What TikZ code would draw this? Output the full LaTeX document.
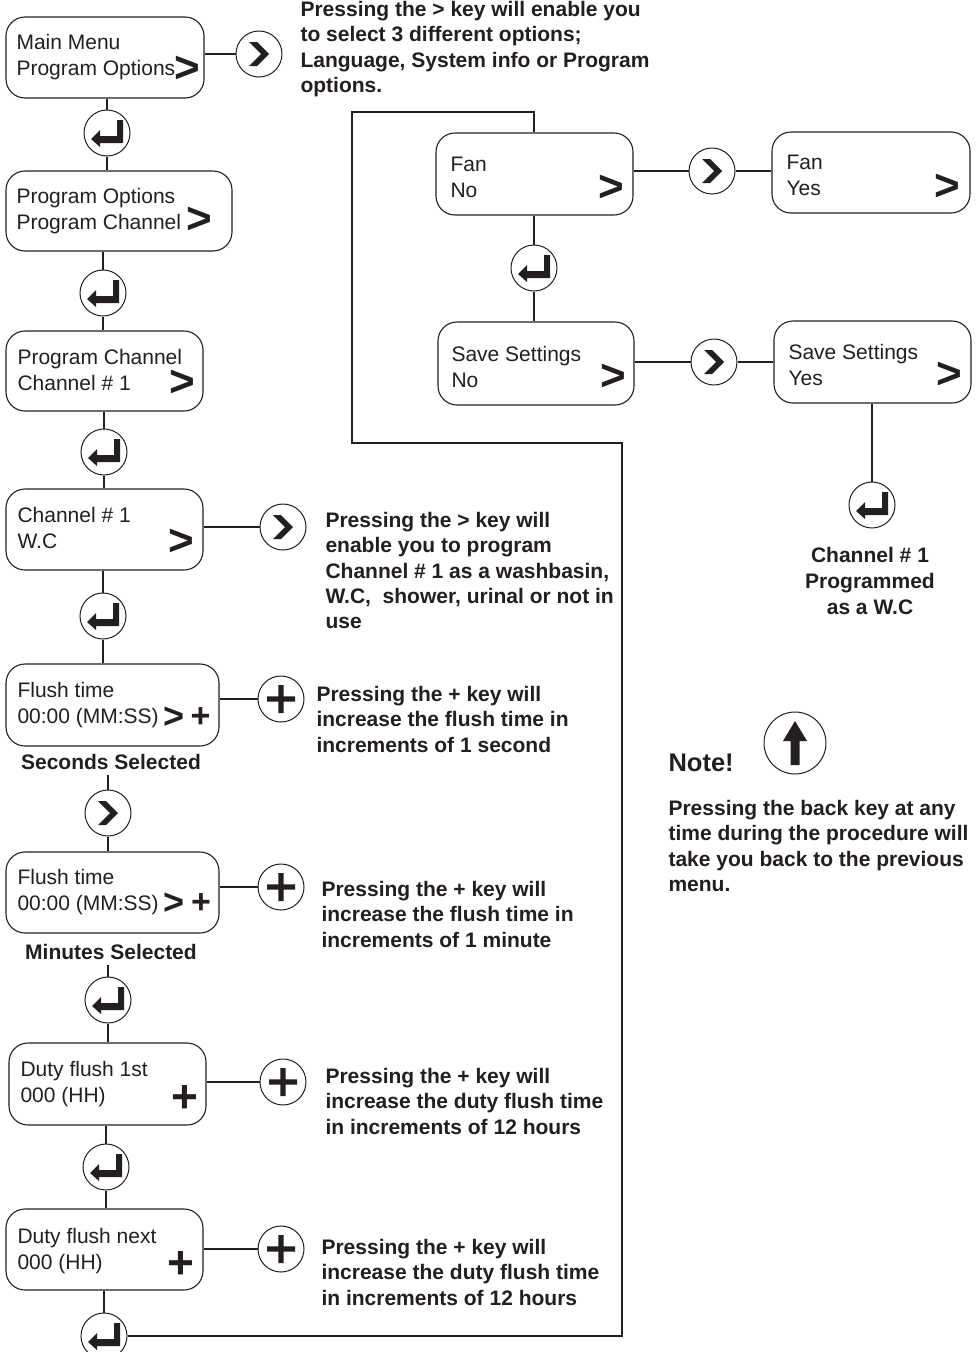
\documentclass[tikz,border=0pt]{standalone}
\usepackage{fontspec}
\setmainfont{Liberation Sans}
\definecolor{ink}{RGB}{35,31,32}
\begin{document}
\begin{tikzpicture}[x=1pt,y=-1pt,line width=1.1pt,
  lcdbox/.style={draw=ink,rounded corners=19pt,inner sep=0pt},
  lcdtext/.style={font=\fontsize{21}{26}\selectfont,align=left,anchor=base west,inner sep=0pt,text=ink},
  desc/.style={font=\fontsize{21}{25.3}\selectfont\bfseries,align=left,anchor=base west,inner sep=0pt,text=ink},
  gtbig/.style={font=\fontsize{44}{44}\selectfont\bfseries,anchor=base,inner sep=0pt,text=ink},
  gtsmall/.style={font=\fontsize{36}{36}\selectfont\bfseries,anchor=base,inner sep=0pt,text=ink},
  plussmall/.style={font=\fontsize{34}{34}\selectfont\bfseries,anchor=base,inner sep=0pt,text=ink},
  plusbig/.style={font=\fontsize{46}{46}\selectfont\bfseries,anchor=base,inner sep=0pt,text=ink},
  keycirc/.style={circle,draw=ink,fill=white,line width=1pt,minimum size=46pt,inner sep=0pt},
  enterkey/.style={keycirc,path picture={\fill[ink,shift={(path picture bounding box.center)}]
      (16pt,13pt) -- (16pt,-10pt) -- (-7pt,-10pt) -- (-7pt,-14pt) -- (-16pt,-6pt) -- (-7pt,3pt)
      -- (-7pt,-3pt) -- (10pt,-3pt) -- (10pt,13pt) -- cycle;}},
  gtkey/.style={keycirc,path picture={\fill[ink,shift={(path picture bounding box.center)}]
      (-10pt,12pt) -- (-2pt,12pt) -- (10pt,0pt) -- (-2pt,-12pt) -- (-10pt,-12pt) -- (2pt,0pt) -- cycle;}},
  pluskey/.style={keycirc,path picture={\fill[ink,shift={(path picture bounding box.center)}]
      (-2.7pt,14pt) rectangle (2.7pt,-14pt) (-14pt,2.7pt) rectangle (14pt,-2.7pt);}},
  upkey/.style={keycirc,minimum size=62pt,path picture={\fill[ink,shift={(path picture bounding box.center)}]
      (0pt,22pt) -- (12pt,2pt) -- (4.5pt,2pt) -- (4.5pt,-22pt) -- (-4.5pt,-22pt) -- (-4.5pt,2pt) -- (-12pt,2pt) -- cycle;}},
  conn/.style={draw=ink,line width=1.1pt}
]
\useasboundingbox (0,0) rectangle (979,1352);
\fill[white] (0,0) rectangle (979,1352);

% ---------- boxes ----------
\node[lcdbox,minimum width=198pt,minimum height=81pt] (main) at (105,57.5) {};
\node[lcdbox,minimum width=226pt,minimum height=80pt] (popt) at (119,211) {};
\node[lcdbox,minimum width=197pt,minimum height=80pt] (pch) at (104.5,371) {};
\node[lcdbox,minimum width=197pt,minimum height=81pt] (chone) at (104.5,529.5) {};
\node[lcdbox,minimum width=213pt,minimum height=82pt] (flA) at (112.5,705) {};
\node[lcdbox,minimum width=213pt,minimum height=81pt] (flB) at (112.5,892.5) {};
\node[lcdbox,minimum width=197pt,minimum height=82pt] (dA) at (107.5,1084) {};
\node[lcdbox,minimum width=197pt,minimum height=81pt] (dB) at (104.5,1249.5) {};
\node[lcdbox,minimum width=197pt,minimum height=82pt] (fanno) at (534.5,174) {};
\node[lcdbox,minimum width=198pt,minimum height=81pt] (fanyes) at (871,172.5) {};
\node[lcdbox,minimum width=196pt,minimum height=83pt] (saveno) at (536,363.5) {};
\node[lcdbox,minimum width=197pt,minimum height=82pt] (saveyes) at (872.5,362) {};

% ---------- box texts (anchor = baseline of last line) ----------
\node[lcdtext] (tmain) at (16,75.5) {Main Menu\\Program Options};
\node[lcdtext] (tpopt) at (16,229.5) {Program Options\\Program Channel};
\node[lcdtext] (tpch) at (17,390.5) {Program Channel\\Channel \# 1};
\node[lcdtext] (tchone) at (17,548.5) {Channel \# 1\\W.C};
\node[lcdtext] (tflA) at (17,723.5) {Flush time\\00:00 (MM:SS)};
\node[lcdtext] (tflB) at (17,910.5) {Flush time\\00:00 (MM:SS)};
\node[lcdtext] (tdA) at (20,1102.5) {Duty flush 1st\\000 (HH)};
\node[lcdtext] (tdB) at (17,1269.5) {Duty flush next\\000 (HH)};
\node[lcdtext] (tfanno) at (450,197) {Fan\\No};
\node[lcdtext] (tfanyes) at (786,195.5) {Fan\\Yes};
\node[lcdtext] (tsaveno) at (451,387.5) {Save Settings\\No};
\node[lcdtext] (tsaveyes) at (788,385) {Save Settings\\Yes};

% ---------- symbols in boxes ----------
\node[gtbig] (gmain) at (187.5,82.5) {>};
\node[gtbig] (gpopt) at (199,233.6) {>};
\node[gtbig] (gpch) at (182,396.6) {>};
\node[gtbig] (gchone) at (181,555.6) {>};
\node[gtsmall] (gflA) at (174.5,728.3) {>};
\node[plussmall] (pflA) at (200.5,727.4) {+};
\node[gtsmall] (gflB) at (174.5,914.8) {>};
\node[plussmall] (pflB) at (201,913.9) {+};
\node[plusbig] (pdA) at (185,1112.3) {+};
\node[plusbig] (pdB) at (181,1278.3) {+};
\node[gtbig] (gfanno) at (611.5,201.6) {>};
\node[gtbig] (gsaveno) at (613,390.1) {>};
\node[gtbig] (gfanyes) at (947.5,200.6) {>};
\node[gtbig] (gsaveyes) at (949.5,388.6) {>};

% ---------- key circles ----------
\node[gtkey] (kmain) at (259,54) {};
\node[enterkey] (e1) at (107,133) {};
\node[enterkey] (e2) at (103,293) {};
\node[enterkey] (e3) at (104,452) {};
\node[gtkey] (kch) at (283,527) {};
\node[enterkey] (e4) at (103,616) {};
\node[pluskey] (kflA) at (281,699) {};
\node[gtkey] (ksec) at (108,813) {};
\node[pluskey] (kflB) at (281,887) {};
\node[enterkey] (e6) at (108,1000) {};
\node[pluskey] (kdA) at (283,1082) {};
\node[enterkey] (e7) at (106,1167) {};
\node[pluskey] (kdB) at (281,1249) {};
\node[enterkey] (e8) at (104,1336) {};
\node[gtkey] (kfan) at (712,171) {};
\node[enterkey] (efan) at (534,268) {};
\node[gtkey] (ksave) at (714,362) {};
\node[enterkey] (esave) at (872,505) {};
\node[upkey] (kup) at (795,743) {};

% ---------- descriptions (anchor = baseline of last line) ----------
\node[desc] (dtop) at (300,92.4) {Pressing the > key will enable you\\to select 3 different options;\\Language, System info or Program\\options.};
\node[desc] (dch) at (325,628.7) {Pressing the > key will\\enable you to program\\Channel \# 1 as a washbasin,\\W.C,\ \ shower, urinal or not in\\use};
\node[desc] (dflA) at (316,752.1) {Pressing the + key will\\increase the flush time in\\increments of 1 second};
\node[desc] (dflB) at (321,947.1) {Pressing the + key will\\increase the flush time in\\increments of 1 minute};
\node[desc] (ddA) at (325,1134.1) {Pressing the + key will\\increase the duty flush time\\in increments of 12 hours};
\node[desc] (ddB) at (321,1305.1) {Pressing the + key will\\increase the duty flush time\\in increments of 12 hours};
\node[desc,anchor=base] (secsel) at (111,769.5) {Seconds Selected};
\node[desc,anchor=base] (minsel) at (111,959.5) {Minutes Selected};
\node[desc,align=center,anchor=base,font=\fontsize{21}{26}\selectfont\bfseries] (prog) at (870,614.5) {Channel \# 1\\Programmed\\as a W.C};
\node[desc,font=\fontsize{25.5}{30}\selectfont\bfseries] (note) at (668,771) {Note!};
\node[desc] (dback) at (668,891.4) {Pressing the back key at any\\time during the procedure will\\take you back to the previous\\menu.};

% ---------- connectors ----------
\draw[conn] (main.east |- kmain) -- (kmain);
\draw[conn] (main.south -| e1) -- (e1);
\draw[conn] (e1) -- (popt.north -| e1);
\draw[conn] (popt.south -| e2) -- (e2);
\draw[conn] (e2) -- (pch.north -| e2);
\draw[conn] (pch.south -| e3) -- (e3);
\draw[conn] (e3) -- (chone.north -| e3);
\draw[conn] (chone.east |- kch) -- (kch);
\draw[conn] (chone.south -| e4) -- (e4);
\draw[conn] (e4) -- (flA.north -| e4);
\draw[conn] (flA.east |- kflA) -- (kflA);
\draw[conn,shorten <=5pt] (secsel.south -| ksec) -- (ksec);
\draw[conn] (ksec) -- (flB.north -| ksec);
\draw[conn] (flB.east |- kflB) -- (kflB);
\draw[conn,shorten <=5pt] (minsel.south -| e6) -- (e6);
\draw[conn] (e6) -- (dA.north -| e6);
\draw[conn] (dA.east |- kdA) -- (kdA);
\draw[conn] (dA.south -| e7) -- (e7);
\draw[conn] (e7) -- (dB.north -| e7);
\draw[conn] (dB.east |- kdB) -- (kdB);
\draw[conn] (dB.south -| e8) -- (e8);

\coordinate (lA) at (622,443);
\coordinate (lB) at (352,443);
\coordinate (lC) at (352,112);
\coordinate (lD) at (534,112);
\draw[conn] (e8) -| (lA) -- (lB) -- (lC) -- (lD) -- (fanno.north -| lD);

\draw[conn] (fanno.east |- kfan) -- (kfan);
\draw[conn] (kfan) -- (fanyes.west |- kfan);
\draw[conn] (fanno.south -| efan) -- (efan);
\draw[conn] (efan) -- (saveno.north -| efan);
\draw[conn] (saveno.east |- ksave) -- (ksave);
\draw[conn] (ksave) -- (saveyes.west |- ksave);
\draw[conn] (saveyes.south -| esave) -- (esave);
\end{tikzpicture}
\end{document}
